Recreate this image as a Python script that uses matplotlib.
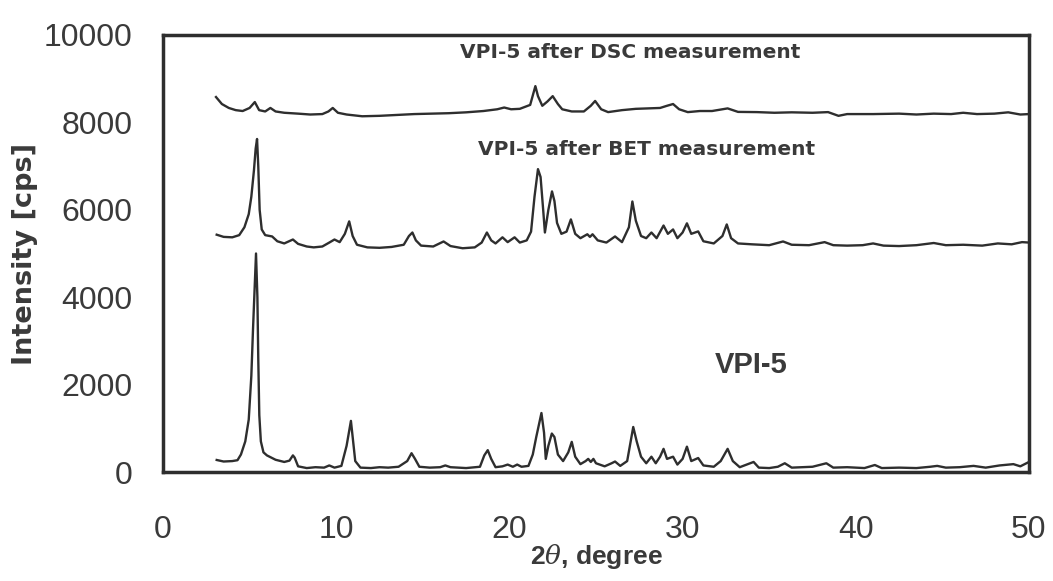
# XRD patterns of VPI-5 before and after DSC / BET measurements
import matplotlib
matplotlib.use("Agg")
import matplotlib.pyplot as plt

# VPI-5 (as synthesised)
x_vpi = [3.1, 3.5, 4.0, 4.3, 4.5, 4.75, 4.95, 5.1, 5.2, 5.3, 5.37, 5.45, 5.5, 5.56, 5.65,
         5.8, 6.0, 6.5, 7.0, 7.3, 7.5, 7.6, 7.8, 8.3, 8.8, 9.3, 9.6, 9.9, 10.3, 10.6,
         10.75, 10.85, 10.95, 11.1, 11.4, 12.0, 12.5, 13.0, 13.6, 14.1, 14.35, 14.55, 14.8,
         15.4, 16.0, 16.3, 16.6, 17.5, 18.3, 18.55, 18.75, 18.95, 19.2, 19.6, 19.9, 20.2,
         20.45, 20.7, 21.1, 21.35, 21.55, 21.7, 21.85, 22.0, 22.1, 22.25, 22.45, 22.6, 22.8,
         23.1, 23.4, 23.6, 23.8, 24.1, 24.4, 24.55, 24.7, 24.85, 25.0, 25.5, 25.9, 26.1,
         26.4, 26.8, 27.0, 27.15, 27.35, 27.6, 27.9, 28.2, 28.45, 28.7, 28.9, 29.1, 29.45,
         29.7, 30.0, 30.25, 30.5, 30.9, 31.2, 31.8, 32.2, 32.6, 32.9, 33.3, 34.1, 34.4,
         35.0, 35.5, 35.9, 36.3, 37.5, 38.3, 38.7, 39.5, 40.5, 41.1, 41.5, 42.5, 43.5,
         44.3, 44.7, 45.2, 46.0, 46.8, 47.5, 48.3, 49.1, 49.5, 50.0]
y_vpi = [275, 240, 250, 270, 400, 700, 1200, 2200, 3300, 4300, 5000, 4000, 2600, 1300, 700,
         450, 380, 280, 230, 260, 380, 330, 130, 90, 110, 100, 150, 100, 140, 600,
         950, 1170, 800, 250, 100, 90, 110, 100, 120, 250, 430, 300, 120,
         100, 110, 150, 110, 90, 120, 380, 500, 300, 110, 130, 170, 120,
         170, 120, 140, 400, 800, 1080, 1350, 900, 300, 600, 880, 800, 400,
         250, 450, 690, 350, 180, 250, 300, 230, 300, 200, 130, 200, 240,
         140, 250, 700, 1030, 700, 350, 200, 350, 200, 350, 530, 300, 350,
         170, 300, 580, 250, 320, 150, 120, 250, 530, 250, 110, 230, 100,
         90, 120, 200, 100, 120, 200, 100, 110, 90, 160, 90, 100, 90,
         120, 140, 100, 110, 140, 100, 150, 180, 130, 230]

# VPI-5 after BET measurement
x_bet = [3.1, 3.5, 4.0, 4.4, 4.7, 4.95, 5.1, 5.25, 5.35, 5.43, 5.5, 5.58, 5.7, 5.9, 6.3,
         6.6, 7.0, 7.5, 7.8, 8.3, 8.7, 9.2, 9.6, 9.9, 10.2, 10.5, 10.75, 10.95, 11.2, 11.8,
         12.5, 13.2, 13.9, 14.2, 14.4, 14.6, 14.9, 15.6, 16.2, 16.6, 17.3, 18.0, 18.4, 18.7,
         18.95, 19.2, 19.6, 19.9, 20.3, 20.6, 21.0, 21.25, 21.45, 21.65, 21.8, 21.95, 22.05,
         22.25, 22.46, 22.6, 22.75, 23.0, 23.3, 23.55, 23.8, 24.1, 24.5, 24.65, 24.8, 25.1,
         25.6, 26.1, 26.5, 26.9, 27.1, 27.3, 27.6, 27.9, 28.2, 28.5, 28.9, 29.15, 29.45,
         29.7, 30.0, 30.25, 30.5, 30.9, 31.2, 31.8, 32.3, 32.55, 32.8, 33.2, 34.0, 35.0,
         35.8, 36.3, 37.3, 38.2, 38.7, 39.5, 40.4, 41.0, 41.6, 42.5, 43.5, 44.5, 45.2,
         46.2, 47.3, 48.2, 49.0, 49.6, 50.0]
y_bet = [5430, 5380, 5370, 5420, 5600, 5900, 6300, 6900, 7400, 7620, 7000, 6000, 5550, 5420, 5390,
         5280, 5230, 5320, 5220, 5160, 5140, 5160, 5250, 5320, 5260, 5450, 5735, 5400, 5200, 5140,
         5130, 5150, 5200, 5400, 5480, 5300, 5180, 5160, 5275, 5170, 5120, 5140, 5250, 5480,
         5300, 5230, 5370, 5260, 5370, 5250, 5300, 5500, 6300, 6930, 6750, 6000, 5480,
         6000, 6420, 6200, 5700, 5450, 5500, 5780, 5450, 5350, 5440, 5380, 5440, 5300,
         5250, 5390, 5260, 5600, 6190, 5750, 5400, 5350, 5480, 5350, 5640, 5450, 5550,
         5350, 5480, 5690, 5450, 5505, 5280, 5230, 5400, 5665, 5350, 5230, 5210, 5190,
         5275, 5200, 5190, 5260, 5190, 5180, 5190, 5230, 5180, 5170, 5190, 5240, 5190,
         5200, 5180, 5230, 5210, 5260, 5250]

# VPI-5 after DSC measurement
x_dsc = [3.06, 3.4, 3.8, 4.2, 4.6, 5.0, 5.3, 5.55, 5.9, 6.2, 6.5, 7.0, 7.8, 8.5, 9.2,
         9.55, 9.8, 10.1, 10.6, 11.5, 12.5, 13.5, 14.5, 15.5, 16.5, 17.5, 18.5, 19.3, 19.7,
         20.1, 20.6, 21.2, 21.5, 21.65, 21.9, 22.2, 22.5, 22.8, 23.05, 23.6, 24.3, 24.7,
         24.95, 25.3, 25.7, 26.5, 27.3, 28.0, 28.7, 29.1, 29.45, 29.8, 30.3, 31.0, 31.7,
         32.6, 33.2, 34.3, 35.3, 36.3, 37.5, 38.4, 39.0, 39.5, 41.0, 42.5, 43.5, 44.5,
         45.5, 46.2, 47.0, 48.0, 48.8, 49.5, 50.0]
y_dsc = [8580, 8420, 8330, 8280, 8260, 8330, 8465, 8280, 8250, 8330, 8250, 8220, 8200, 8180, 8190,
         8250, 8330, 8220, 8180, 8140, 8150, 8170, 8190, 8200, 8210, 8230, 8260, 8300, 8340,
         8300, 8310, 8400, 8830, 8600, 8380, 8480, 8600, 8420, 8300, 8250, 8250, 8380,
         8490, 8300, 8235, 8280, 8310, 8320, 8330, 8380, 8420, 8300, 8235, 8260, 8260,
         8320, 8240, 8235, 8220, 8230, 8220, 8235, 8150, 8190, 8190, 8200, 8180, 8200,
         8190, 8220, 8190, 8200, 8230, 8180, 8190]

x_ticks = [0, 10, 20, 30, 40, 50]
y_ticks = [0, 2000, 4000, 6000, 8000, 10000]

line_col = "#2e2e2e"
text_col = "#3a3a3a"

plt.rcParams['font.family'] = ['Liberation Sans', 'DejaVu Sans']
plt.rcParams['mathtext.fontset'] = 'dejavuserif'

fig = plt.figure(figsize=(10.53, 5.81), dpi=100)
ax = fig.add_axes([0.1548, 0.1876, 0.8224, 0.7522])

ax.plot(x_vpi, y_vpi, color=line_col, lw=1.7)
ax.plot(x_bet, y_bet, color=line_col, lw=1.7)
ax.plot(x_dsc, y_dsc, color=line_col, lw=1.7)

ax.set_xlim(0, 50)
ax.set_ylim(0, 10000)
ax.set_xticks(x_ticks)
ax.set_yticks(y_ticks)
ax.tick_params(axis='both', length=0, labelsize=23, colors=text_col)
ax.tick_params(axis='x', pad=31)
ax.tick_params(axis='y', pad=22)

for s in ax.spines.values():
    s.set_linewidth(2.5)
    s.set_color(line_col)

# axis titles (bold, slightly wider face like the original)
ax.set_ylabel("Intensity [cps]", fontsize=19.5, fontweight='bold', color=text_col,
              family='DejaVu Sans', labelpad=4)
ax.set_xlabel(r"2$\theta$, degree", fontsize=19, fontweight='bold', color=text_col, labelpad=-2)

ax.text(27.0, 9600, "VPI-5 after DSC measurement", fontsize=14.5, fontweight='bold',
        color=text_col, ha='center', va='center', family='DejaVu Sans')
ax.text(27.9, 7380, "VPI-5 after BET measurement", fontsize=14.5, fontweight='bold',
        color=text_col, ha='center', va='center', family='DejaVu Sans')
ax.text(33.95, 2450, "VPI-5", fontsize=21, fontweight='bold', color=text_col,
        ha='center', va='center')

fig.savefig("out.png", dpi=100)
